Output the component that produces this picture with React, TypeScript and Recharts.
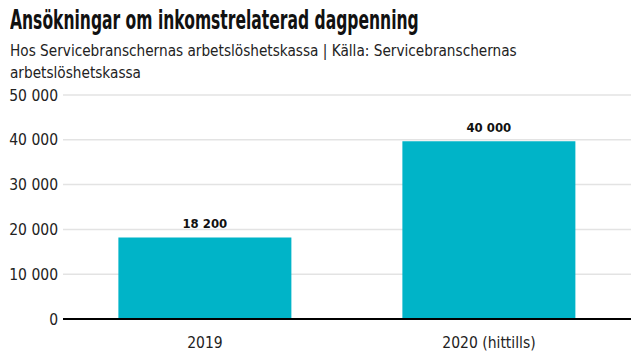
import { BarChart, Bar, XAxis, YAxis, CartesianGrid, LabelList } from "recharts";

const years = ["2019", "2020 (hittills)"];
const applications = [18200, 39700];
const valueLabels = ["18 200", "40 000"];
const yTicks = [0, 10000, 20000, 30000, 40000, 50000];

const data = years.map((year, i) => ({
  year,
  value: applications[i],
  label: valueLabels[i],
}));

const font = '"DejaVu Sans Condensed", "DejaVu Sans", sans-serif';
const fmt = (v: number) => (v === 0 ? "0" : v.toLocaleString("sv-SE").replace(/\s/g, " "));

export default function App() {
  return (
    <div style={{ position: "relative", width: 640, height: 360, margin: -8, background: "#fff", fontFamily: font }}>
      <div
        style={{
          position: "absolute",
          left: 10,
          top: 5,
          fontSize: 26,
          fontWeight: 700,
          color: "#111",
          whiteSpace: "nowrap",
          transform: "scaleX(0.665)",
          transformOrigin: "left top",
        }}
      >
        Ansökningar om inkomstrelaterad dagpenning
      </div>
      <div style={{ position: "absolute", left: 10, top: 40, width: 540, fontSize: 15.2, lineHeight: "22px", color: "#222" }}>
        Hos Servicebranschernas arbetslöshetskassa | Källa: Servicebranschernas arbetslöshetskassa
      </div>
      <div style={{ position: "absolute", left: 0, top: 0 }}>
        <BarChart
          width={640}
          height={360}
          data={data}
          margin={{ top: 95, right: 9, bottom: 11, left: 0 }}
          barCategoryGap="19.5%"
        >
          <CartesianGrid vertical={false} stroke="#e3e3e3" strokeWidth={1.5} />
          <XAxis
            dataKey="year"
            tickLine={false}
            axisLine={{ stroke: "#000", strokeWidth: 2 }}
            tick={{ fontSize: 15.5, fill: "#222", fontFamily: font }}
            tickMargin={12}
            height={30}
          />
          <YAxis
            domain={[0, 50000]}
            ticks={yTicks}
            tickFormatter={fmt}
            tickLine={false}
            axisLine={false}
            width={63}
            tickSize={5}
            tickMargin={0}
            tick={{ fontSize: 15.5, fill: "#222", fontFamily: font }}
          />
          <Bar dataKey="value" fill="#00b4c8" isAnimationActive={false}>
            <LabelList
              dataKey="label"
              position="top"
              offset={9}
              style={{ fontSize: 13, fontWeight: 700, fill: "#111", fontFamily: font }}
            />
          </Bar>
        </BarChart>
      </div>
    </div>
  );
}
